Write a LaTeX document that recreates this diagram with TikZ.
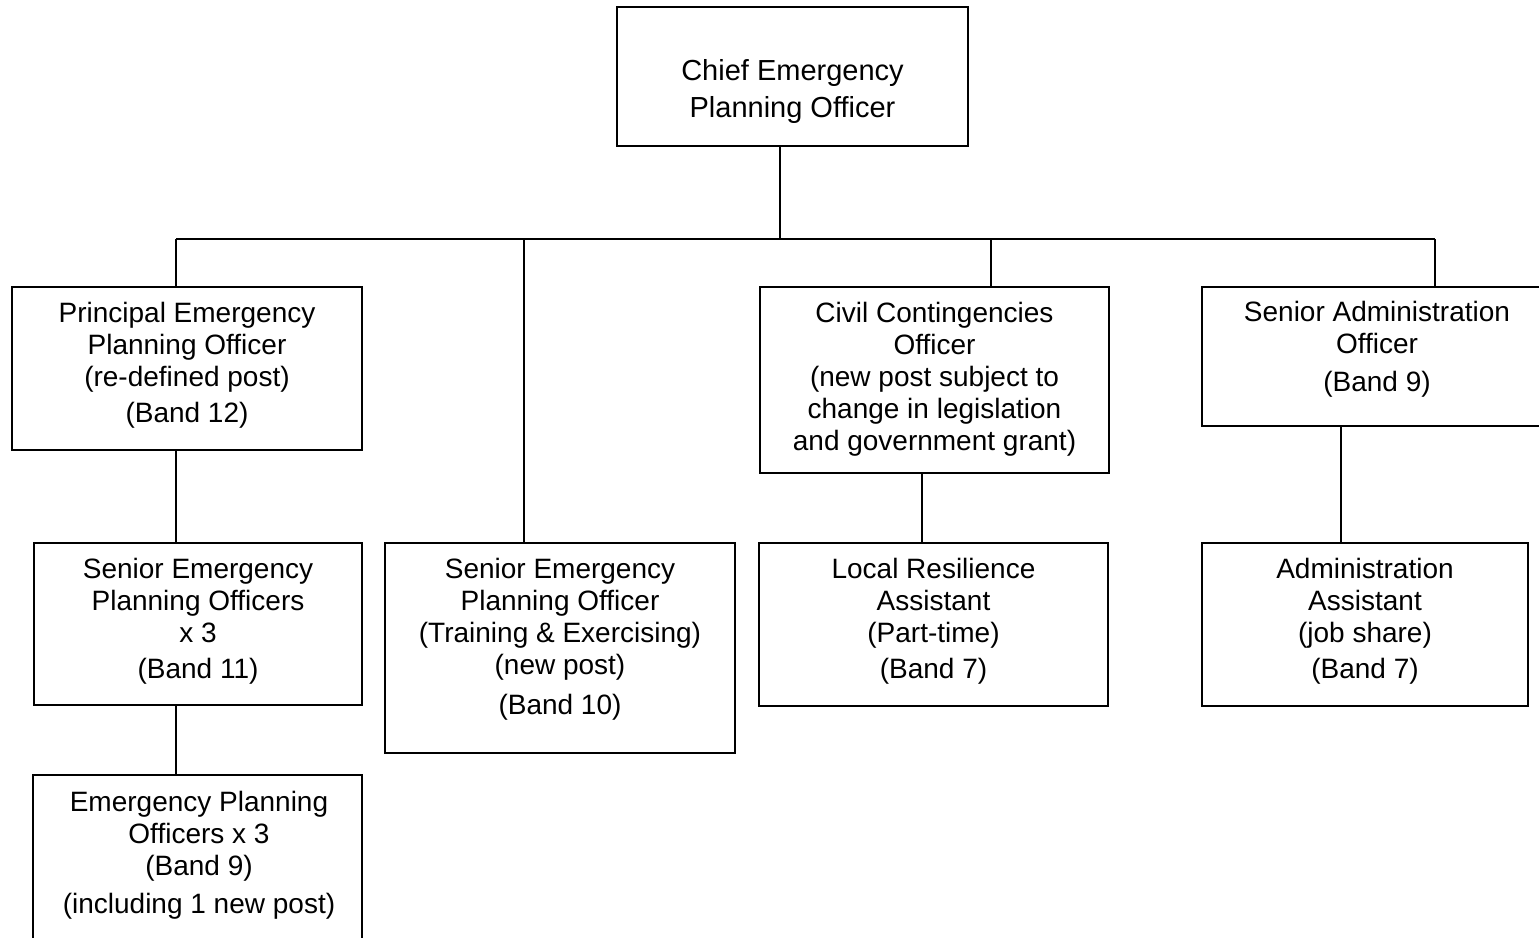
\documentclass[tikz,border=0pt]{standalone}
\usepackage{fontspec}
\setmainfont{Liberation Sans}
\begin{document}
\begin{tikzpicture}[x=1pt,y=-1pt,
  box/.style={draw, line width=2.2pt, inner sep=0pt, outer sep=0pt, rectangle},
  txt/.style={inner sep=0pt, outer sep=0pt, align=center, font=\fontsize{28}{32}\selectfont},
  conn/.style={line width=2pt}]
\useasboundingbox (0,0) rectangle (1539,937);
% boxes
\node[box, minimum width=351pt, minimum height=139pt] (chief) at (792.5,76.5) {};
\node[box, minimum width=350pt, minimum height=163pt] (prin) at (187,368.5) {};
\node[box, minimum width=328pt, minimum height=162pt] (sepo) at (198,624) {};
\node[box, minimum width=329pt, minimum height=170pt] (epo) at (197.5,860) {};
\node[box, minimum width=350pt, minimum height=210pt] (train) at (560,648) {};
\node[box, minimum width=349pt, minimum height=186pt] (civil) at (934.5,380) {};
\node[box, minimum width=349pt, minimum height=163pt] (local) at (933.5,624.5) {};
\node[box, minimum width=350pt, minimum height=139pt] (sadmin) at (1377,356.5) {};
\node[box, minimum width=326pt, minimum height=163pt] (admin) at (1365,624.5) {};
% texts
\node[txt, font=\fontsize{29}{37}\selectfont] (chiefT) at (792.5,92) {Chief Emergency\\Planning Officer};
\node[txt] (prinT) at (187,365.5) {Principal Emergency\\Planning Officer\\(re-defined post)\\[4pt](Band 12)};
\node[txt] (sepoT) at (198,621.5) {Senior Emergency\\Planning Officers\\x 3\\[4pt](Band 11)};
\node[txt] (epoT) at (199,855.5) {Emergency Planning\\Officers x 3\\(Band 9)\\[6pt](including 1 new post)};
\node[txt] (trainT) at (560,639.5) {Senior Emergency\\Planning Officer\\(Training \& Exercising)\\(new post)\\[8pt](Band 10)};
\node[txt] (civilT) at (934.5,379) {Civil Contingencies\\Officer\\(new post subject to\\change in legislation\\and government grant)};
\node[txt] (localT) at (933.5,621.5) {Local Resilience\\Assistant\\(Part-time)\\[4pt](Band 7)};
\node[txt] (sadminT) at (1377,349) {Senior Administration\\Officer\\[6pt](Band 9)};
\node[txt] (adminT) at (1365,621.5) {Administration\\Assistant\\(job share)\\[4pt](Band 7)};
% connector coordinates
\coordinate (bus) at (780,239);
\coordinate (bL) at (176,239);
\coordinate (bR) at (1435,239);
\coordinate (bT) at (524,239);
\coordinate (bC) at (991,239);
\coordinate (cl) at (922,0);
\coordinate (al) at (1341,0);
% connectors
\draw[conn] (bus |- chief.south) -- (bus);
\draw[conn] (bL) -- (bR);
\draw[conn] (bL) -- (bL |- prin.north);
\draw[conn] (bT) -- (bT |- train.north);
\draw[conn] (bC) -- (bC |- civil.north);
\draw[conn] (bR) -- (bR |- sadmin.north);
\draw[conn] (bL |- prin.south) -- (bL |- sepo.north);
\draw[conn] (bL |- sepo.south) -- (bL |- epo.north);
\draw[conn] (cl |- civil.south) -- (cl |- local.north);
\draw[conn] (al |- sadmin.south) -- (al |- admin.north);
\end{tikzpicture}
\end{document}
